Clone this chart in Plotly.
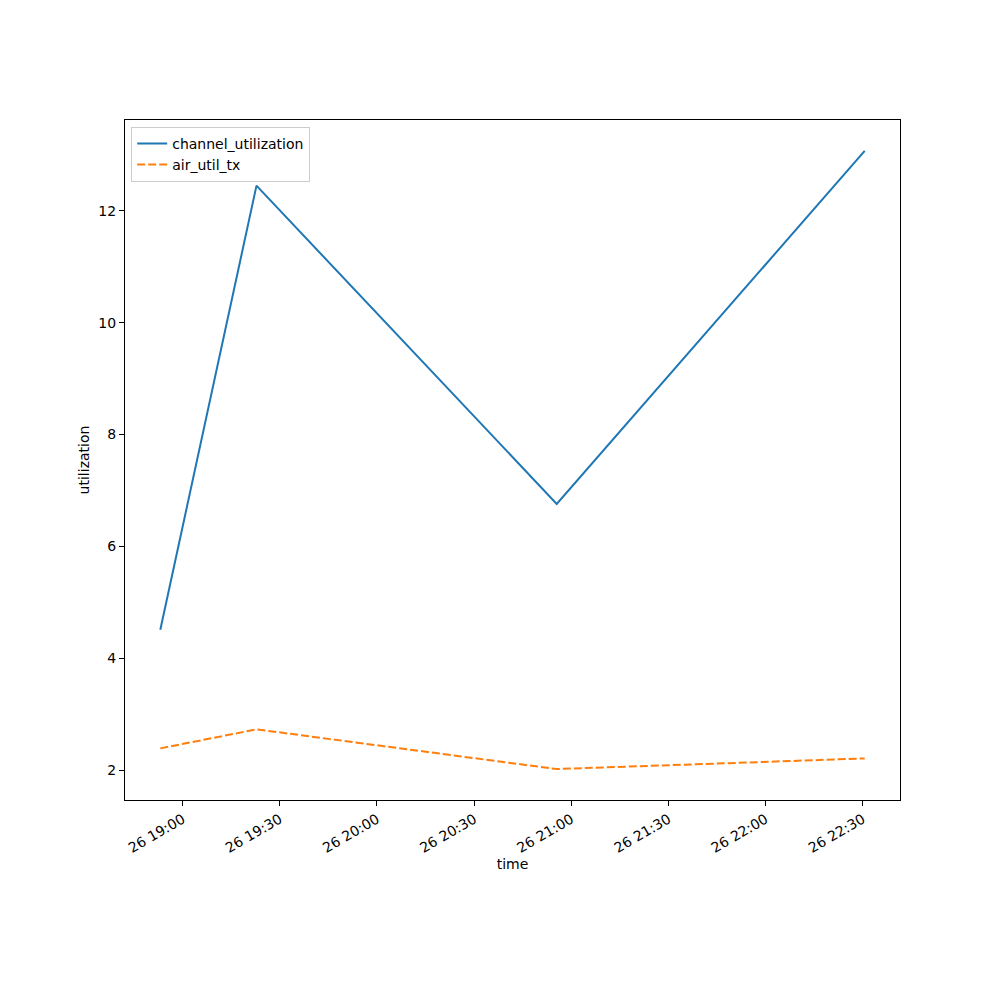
import plotly.graph_objects as go

times = [
    "2024-01-26 18:53:06",
    "2024-01-26 19:22:48",
    "2024-01-26 20:55:30",
    "2024-01-26 22:30:36",
]
channel_utilization = [4.51, 12.45, 6.76, 13.07]
air_util_tx = [2.39, 2.73, 2.02, 2.21]

tick_vals = [
    "2024-01-26 19:00", "2024-01-26 19:30", "2024-01-26 20:00", "2024-01-26 20:30",
    "2024-01-26 21:00", "2024-01-26 21:30", "2024-01-26 22:00", "2024-01-26 22:30",
]
tick_text = ["26 19:00", "26 19:30", "26 20:00", "26 20:30",
             "26 21:00", "26 21:30", "26 22:00", "26 22:30"]

fig = go.Figure()
fig.add_trace(go.Scatter(x=times, y=channel_utilization, mode="lines",
                         name="channel_utilization",
                         line=dict(color="#1f77b4", width=2)))
fig.add_trace(go.Scatter(x=times, y=air_util_tx, mode="lines",
                         name="air_util_tx",
                         line=dict(color="#ff7f0e", width=2, dash="8px,3px")))

axis_style = dict(showline=True, linecolor="black", linewidth=1, mirror=True,
                  showgrid=False, zeroline=False, ticks="outside", ticklen=5,
                  tickcolor="black", tickfont=dict(size=14, color="black"))

# page body adds ~8px offset, margins compensate
fig.update_layout(
    width=1000, height=1000,
    margin=dict(l=117, r=108, t=112, b=208),
    paper_bgcolor="white", plot_bgcolor="white",
    font=dict(family="DejaVu Sans", size=14, color="black"),
    showlegend=True,
    legend=dict(x=0.008, y=0.99, xanchor="left", yanchor="top",
                bordercolor="#cccccc", borderwidth=1, bgcolor="rgba(255,255,255,0.8)",
                font=dict(size=14), tracegroupgap=0),
)
fig.update_xaxes(axis_style, type="date",
                 range=["2024-01-26 18:42:12", "2024-01-26 22:41:30"],
                 tickvals=tick_vals, ticktext=tick_text, tickangle=-30,
                 title=dict(text="time", standoff=2, font=dict(size=14)))
fig.update_yaxes(axis_style, range=[1.467, 13.623],
                 tickvals=[2, 4, 6, 8, 10, 12],
                 title=dict(text="utilization", standoff=5, font=dict(size=14)))

fig.write_html("out.html")
